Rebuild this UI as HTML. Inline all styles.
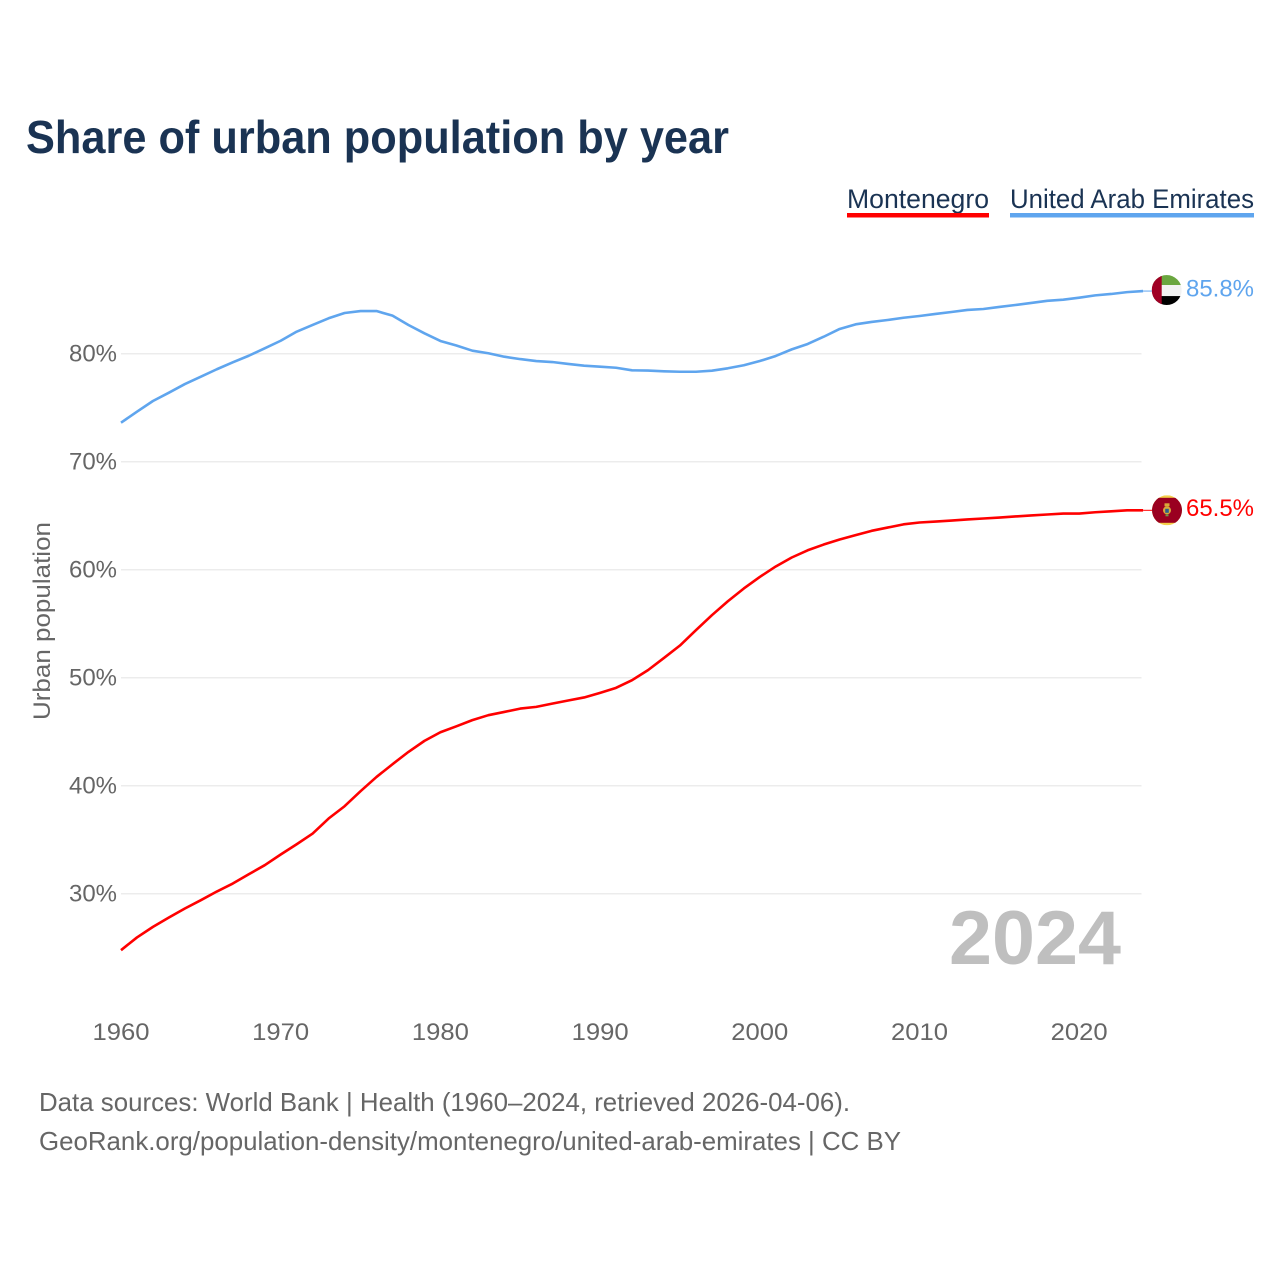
<!DOCTYPE html>
<html lang="en">
<head>
<meta charset="utf-8">
<title>Share of urban population by year</title>
<style>
html,body{margin:0;padding:0;background:#fff;}
svg{display:block;}
text{font-family:"Liberation Sans",sans-serif;}
</style>
</head>
<body>
<svg id="chart" xmlns="http://www.w3.org/2000/svg" width="1280" height="1280" viewBox="0 0 1280 1280">
  <rect x="0" y="0" width="1280" height="1280" fill="#ffffff"/>
  <text x="26" y="153" font-size="46" font-weight="700" fill="#1a3353" textLength="703" lengthAdjust="spacingAndGlyphs">Share of urban population by year</text>

  <g>
    <text x="847" y="208" font-size="27" fill="#1a3353" textLength="142" lengthAdjust="spacingAndGlyphs">Montenegro</text>
    <rect x="847" y="213" width="142" height="4.5" fill="#ff0000"/>
  </g>
  <g>
    <text x="1010" y="208" font-size="27" fill="#1a3353" textLength="244" lengthAdjust="spacingAndGlyphs">United Arab Emirates</text>
    <rect x="1010" y="213" width="244" height="4.5" fill="#5fa5ee"/>
  </g>

  <g id="grid"></g>
  <g id="yTicks"></g>
  <g id="xTicks"></g>

  <text transform="translate(50,621) rotate(-90)" text-anchor="middle" font-size="24" fill="#666666" textLength="198" lengthAdjust="spacingAndGlyphs">Urban population</text>

  <text x="949" y="964" font-size="76" font-weight="700" fill="#bfbfbf" textLength="172" lengthAdjust="spacingAndGlyphs">2024</text>

  <g id="series"></g>

  <defs>
    <clipPath id="flagClip"><circle cx="0" cy="0" r="15"/></clipPath>
  </defs>

  <g id="flagUae">
    <g clip-path="url(#flagClip)">
      <rect x="-15" y="-15" width="30" height="10" fill="#6aa63f"/>
      <rect x="-15" y="-5" width="30" height="11" fill="#f2f2f2"/>
      <rect x="-15" y="6" width="30" height="9" fill="#000000"/>
      <rect x="-15" y="-15" width="10" height="30" fill="#a00024"/>
    </g>
  </g>
  <g id="flagMne">
    <g clip-path="url(#flagClip)">
      <rect x="-15" y="-15" width="30" height="30" fill="#f4cf4a"/>
      <rect x="-15" y="-12.5" width="30" height="25" fill="#9a0020"/>
      <rect x="-2.5" y="-7" width="5" height="3" fill="#d8a93a"/>
      <circle cx="0" cy="0" r="4" fill="#d8a93a"/>
      <rect x="-1.8" y="-1.5" width="3.6" height="4" fill="#2a5f8f"/>
      <rect x="-1.5" y="4" width="3" height="2" fill="#6f9a4a"/>
    </g>
  </g>

  <g id="labels"></g>

  <text x="39" y="1111" font-size="26" fill="#666666" textLength="811" lengthAdjust="spacingAndGlyphs">Data sources: World Bank | Health (1960–2024, retrieved 2026-04-06).</text>
  <text x="39" y="1150" font-size="26" fill="#666666" textLength="862" lengthAdjust="spacingAndGlyphs">GeoRank.org/population-density/montenegro/united-arab-emirates | CC BY</text>
</svg>

<script>
const years = [1960,1961,1962,1963,1964,1965,1966,1967,1968,1969,1970,1971,1972,1973,1974,1975,1976,1977,1978,1979,1980,1981,1982,1983,1984,1985,1986,1987,1988,1989,1990,1991,1992,1993,1994,1995,1996,1997,1998,1999,2000,2001,2002,2003,2004,2005,2006,2007,2008,2009,2010,2011,2012,2013,2014,2015,2016,2017,2018,2019,2020,2021,2022,2023,2024];

const montenegroValues = [24.77,25.95,26.93,27.8,28.63,29.4,30.2,30.94,31.8,32.64,33.63,34.58,35.57,36.96,38.1,39.49,40.81,41.99,43.13,44.15,44.95,45.5,46.07,46.53,46.83,47.14,47.3,47.6,47.89,48.17,48.6,49.06,49.77,50.7,51.83,52.98,54.4,55.79,57.08,58.26,59.33,60.3,61.13,61.8,62.33,62.8,63.2,63.6,63.9,64.2,64.37,64.46,64.55,64.65,64.74,64.83,64.93,65.02,65.11,65.2,65.2,65.32,65.41,65.5,65.5];

const uaeValues = [73.61,74.63,75.62,76.39,77.19,77.87,78.56,79.2,79.81,80.5,81.2,82.04,82.66,83.28,83.77,83.95,83.95,83.52,82.66,81.89,81.18,80.76,80.28,80.04,79.72,79.5,79.32,79.23,79.05,78.89,78.8,78.7,78.46,78.44,78.37,78.33,78.33,78.43,78.65,78.93,79.32,79.79,80.4,80.9,81.57,82.29,82.72,82.94,83.12,83.33,83.49,83.68,83.86,84.05,84.14,84.33,84.51,84.7,84.9,85.0,85.19,85.4,85.53,85.7,85.8];

const yTickValues = [30,40,50,60,70,80];
const xTickValues = [1960,1970,1980,1990,2000,2010,2020];

const SVG_NS = 'http://www.w3.org/2000/svg';
function xScale(year){ return 121 + (year - 1960) * 15.97; }
function yScale(v){ return 893.7 - (v - 30) * 10.8; }

const gridG = document.getElementById('grid');
const yG = document.getElementById('yTicks');
const xG = document.getElementById('xTicks');
const seriesG = document.getElementById('series');
const labelsG = document.getElementById('labels');

yTickValues.forEach(function(v){
  const line = document.createElementNS(SVG_NS, 'line');
  
  
  line.setAttribute('x1', 121);
  line.setAttribute('x2', 1141.5);
  line.setAttribute('y1', yScale(v));
  line.setAttribute('y2', yScale(v));
  line.setAttribute('stroke', '#ececec');
  line.setAttribute('stroke-width', '1.5');
  gridG.appendChild(line);

  const t = document.createElementNS(SVG_NS, 'text');
  
  
  t.setAttribute('x', 117);
  t.setAttribute('y', yScale(v) + 8);
  t.setAttribute('text-anchor', 'end');
  t.setAttribute('font-size', '24');
  t.setAttribute('fill', '#666666');
  t.setAttribute('textLength', '48');
  t.setAttribute('lengthAdjust', 'spacingAndGlyphs');
  t.textContent = v + '%';
  yG.appendChild(t);
});

xTickValues.forEach(function(year){
  const t = document.createElementNS(SVG_NS, 'text');
  
  
  t.setAttribute('x', xScale(year));
  t.setAttribute('y', 1040);
  t.setAttribute('text-anchor', 'middle');
  t.setAttribute('font-size', '24');
  t.setAttribute('fill', '#666666');
  t.setAttribute('textLength', '57');
  t.setAttribute('lengthAdjust', 'spacingAndGlyphs');
  t.textContent = year;
  xG.appendChild(t);
});

function linePath(values){
  return values.map(function(v, i){
    return (i ? 'L' : 'M') + xScale(years[i]).toFixed(2) + ' ' + yScale(v).toFixed(2);
  }).join(' ');
}

function drawMontenegro(){
  const last = montenegroValues[montenegroValues.length - 1];
  const p = document.createElementNS(SVG_NS, 'path');
  
  
  p.setAttribute('d', linePath(montenegroValues));
  p.setAttribute('fill', 'none');
  p.setAttribute('stroke', '#ff0000');
  p.setAttribute('stroke-width', '2.6');
  p.setAttribute('stroke-linejoin', 'round');
  seriesG.appendChild(p);

  const lead = document.createElementNS(SVG_NS, 'line');
  
  
  lead.setAttribute('x1', xScale(2024));
  lead.setAttribute('x2', 1152);
  lead.setAttribute('y1', yScale(last));
  lead.setAttribute('y2', yScale(last));
  lead.setAttribute('stroke', '#ff0000');
  lead.setAttribute('stroke-width', '1');
  seriesG.appendChild(lead);

  document.getElementById('flagMne').setAttribute('transform', 'translate(1167,' + yScale(last) + ')');

  const t = document.createElementNS(SVG_NS, 'text');
  
  
  t.setAttribute('x', 1186);
  t.setAttribute('y', yScale(last) + 5.5);
  t.setAttribute('font-size', '24');
  t.setAttribute('fill', '#ff0000');
  t.setAttribute('textLength', '68');
  t.setAttribute('lengthAdjust', 'spacingAndGlyphs');
  t.textContent = last.toFixed(1) + '%';
  labelsG.appendChild(t);
}

function drawUae(){
  const last = uaeValues[uaeValues.length - 1];
  const p = document.createElementNS(SVG_NS, 'path');
  
  
  p.setAttribute('d', linePath(uaeValues));
  p.setAttribute('fill', 'none');
  p.setAttribute('stroke', '#5fa5ee');
  p.setAttribute('stroke-width', '2.6');
  p.setAttribute('stroke-linejoin', 'round');
  seriesG.appendChild(p);

  const lead = document.createElementNS(SVG_NS, 'line');
  
  
  lead.setAttribute('x1', xScale(2024));
  lead.setAttribute('x2', 1152);
  lead.setAttribute('y1', yScale(last));
  lead.setAttribute('y2', yScale(last));
  lead.setAttribute('stroke', '#5fa5ee');
  lead.setAttribute('stroke-width', '1');
  seriesG.appendChild(lead);

  document.getElementById('flagUae').setAttribute('transform', 'translate(1166.7,' + (yScale(last) - 1) + ')');

  const t = document.createElementNS(SVG_NS, 'text');
  
  
  t.setAttribute('x', 1186);
  t.setAttribute('y', yScale(last) + 5.5);
  t.setAttribute('font-size', '24');
  t.setAttribute('fill', '#5fa5ee');
  t.setAttribute('textLength', '68');
  t.setAttribute('lengthAdjust', 'spacingAndGlyphs');
  t.textContent = last.toFixed(1) + '%';
  labelsG.appendChild(t);
}

drawUae();
drawMontenegro();
</script>
</body>
</html>
